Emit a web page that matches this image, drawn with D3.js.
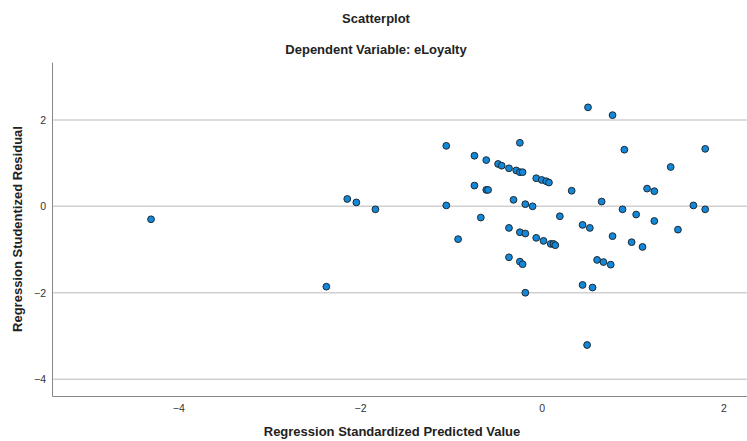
<!DOCTYPE html>
<html>
<head>
<meta charset="utf-8">
<script src="https://cdn.jsdelivr.net/npm/d3@7"></script>
<style>
  body { margin: 0; background: #fff; }
  text { font-family: "Liberation Sans", Arial, sans-serif; }
</style>
</head>
<body>
<div id="chart"></div>
<script>
// predicted value (standardized) and studentized residual
const predicted = [
  0.51, -1.05, -0.24, -0.74, -0.61, -0.48, -0.44, -0.36, -0.28, -0.24, -0.21,
  -0.06, 0.00, 0.05, 0.08, -0.74, -0.61, -0.59, 0.33, -0.31, -0.18, -0.10,
  -1.05, 0.66, -0.67, 0.20, -0.36, -0.24, -0.18, -0.06, 0.02, 0.10, 0.13,
  0.15, 0.45, 0.53, -0.92, -0.36, -0.24, -0.21, 0.61, 0.45, 0.56, -0.18,
  0.78, 0.91, 1.80, 1.42, 1.16, 1.24, 0.89, 1.04, 1.24, 1.67, 1.80, 1.50,
  0.78, 0.99, 1.11, 0.68, 0.76, 0.50, -4.30, -2.14, -2.04, -1.83, -2.37
];
const residual = [
  2.29, 1.40, 1.47, 1.17, 1.07, 0.98, 0.94, 0.88, 0.83, 0.79, 0.79,
  0.65, 0.61, 0.58, 0.55, 0.48, 0.38, 0.38, 0.36, 0.15, 0.05, 0.00,
  0.02, 0.11, -0.26, -0.23, -0.50, -0.60, -0.63, -0.73, -0.80, -0.87, -0.87,
  -0.90, -0.43, -0.50, -0.76, -1.18, -1.28, -1.34, -1.24, -1.82, -1.88, -2.00,
  2.11, 1.31, 1.33, 0.91, 0.41, 0.35, -0.07, -0.19, -0.34, 0.02, -0.07, -0.54,
  -0.69, -0.83, -0.94, -1.29, -1.35, -3.21, -0.30, 0.17, 0.09, -0.07, -1.86
];
const xTicks = [-4, -2, 0, 2];
const yTicks = [-4, -2, 0, 2];

const width = 747, height = 441;
const margin = {top: 62, right: 0, bottom: 45, left: 52};

const svg = d3.select('#chart').append('svg')
    .attr('width', width)
    .attr('height', height);

const x = d3.scaleLinear()
    .domain([-5.39, 2.26])
    .range([margin.left, width - margin.right]);
const y = d3.scaleLinear()
    .domain([-4.39, 3.34])
    .range([height - margin.bottom, margin.top]);

// gridlines
svg.append('g')
    .selectAll('line')
    .data(yTicks)
    .enter().append('line')
    .attr('x1', margin.left)
    .attr('x2', width - margin.right)
    .attr('y1', d => y(d))
    .attr('y2', d => y(d))
    .attr('stroke', '#d0d0d0')
    .attr('stroke-width', 1.5);

const xAxis = svg.append('g')
    .attr('transform', 'translate(0,' + (height - margin.bottom) + ')')
    .call(d3.axisBottom(x).tickValues(xTicks).tickSize(0).tickPadding(9).tickFormat(d3.format('d')));
const yAxis = svg.append('g')
    .attr('transform', 'translate(' + margin.left + ',0)')
    .call(d3.axisLeft(y).tickValues(yTicks).tickSize(0).tickPadding(6).tickFormat(d3.format('d')));

[xAxis, yAxis].forEach(a => {
    a.select('.domain').attr('stroke', '#888').attr('stroke-width', 1);
    a.selectAll('text')
        .style('font-size', '10.5px')
        .style('font-family', '"Liberation Sans Narrow", "Liberation Sans", Arial, sans-serif')
        .attr('fill', '#333');
});

// points
svg.append('g')
    .selectAll('circle')
    .data(predicted.map((p, i) => ({p, r: residual[i]})))
    .enter().append('circle')
    .attr('cx', d => x(d.p))
    .attr('cy', d => y(d.r))
    .attr('r', 3.4)
    .attr('fill', '#1488d8')
    .attr('stroke', '#1e2a33')
    .attr('stroke-width', 1);

// titles
const title = (tx, ty, s) => svg.append('text')
    .attr('x', tx).attr('y', ty)
    .attr('text-anchor', 'middle')
    .style('font-size', '13px').style('font-weight', 'bold')
    .attr('fill', '#222')
    .text(s);

title(376, 23, 'Scatterplot');
title(376, 54, 'Dependent Variable: eLoyalty');
title(392, 436, 'Regression Standardized Predicted Value');
title(0, 0, 'Regression Studentized Residual')
    .attr('transform', 'translate(22,' + (margin.top + height - margin.bottom) / 2 + ')rotate(-90)');
</script>
</body>
</html>
